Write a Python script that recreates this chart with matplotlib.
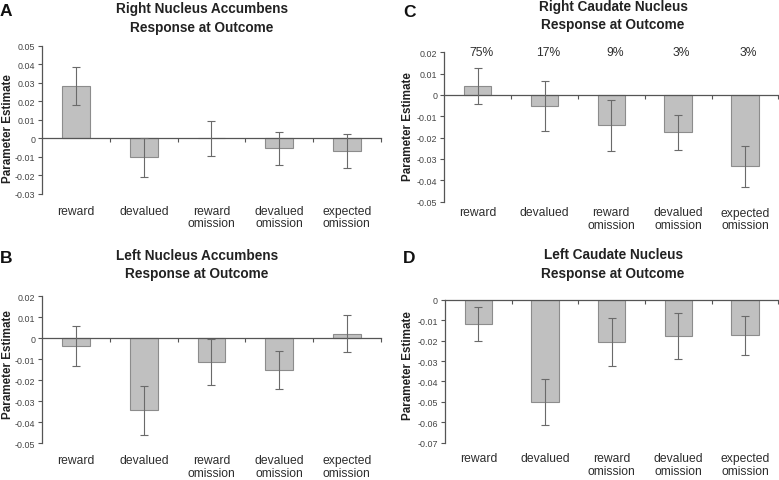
import matplotlib
matplotlib.use("Agg")
import matplotlib.pyplot as plt
from matplotlib.ticker import FuncFormatter, FixedLocator
import numpy as np

plt.rcParams['font.family'] = ['Liberation Sans', 'DejaVu Sans']
plt.rcParams['axes.unicode_minus'] = False

categories = ["reward", "devalued", "reward\nomission", "devalued\nomission", "expected\nomission"]

# Panel A: Right Nucleus Accumbens
a_values = [0.0282, -0.0103, 0.0, -0.0055, -0.0069]
a_errors = [0.0104, 0.0106, 0.0094, 0.0089, 0.0094]
# Panel B: Left Nucleus Accumbens
b_values = [-0.0037, -0.0343, -0.0112, -0.0150, 0.0021]
b_errors = [0.0097, 0.0118, 0.0109, 0.0090, 0.0088]
# Panel C: Right Caudate Nucleus
c_values = [0.0042, -0.0053, -0.0142, -0.0176, -0.0335]
c_errors = [0.0085, 0.0118, 0.0120, 0.0081, 0.0096]
c_percent = ["75%", "17%", "9%", "3%", "3%"]
# Panel D: Left Caudate Nucleus
d_values = [-0.0118, -0.0502, -0.0207, -0.0176, -0.0174]
d_errors = [0.0084, 0.0113, 0.0117, 0.0113, 0.0095]

a_ylim = (-0.03, 0.05)
b_ylim = (-0.05, 0.02)
c_ylim = (-0.05, 0.02)
d_ylim = (-0.07, 0.0)

W, H = 779, 481
fig = plt.figure(figsize=(W / 100, H / 100), dpi=100)

def fig_rect(left, top, right, bottom):
    return [left / W, 1 - bottom / H, (right - left) / W, (bottom - top) / H]

axis_col = '#555555'
bar_col = '#c0c0c0'
edge_col = '#8c8c8c'
err_col = '#6a6a6a'
text_col = '#2e2e2e'

def fmt(v, pos):
    if abs(v) < 1e-9:
        return "0"
    return f"{v:.2f}"

def make_panel(rect, values, errors, ylim, label_gap, ylab_xy):
    ax = fig.add_axes(rect)
    x = np.arange(len(categories))
    ax.bar(x, values, width=0.41, color=bar_col, edgecolor=edge_col, linewidth=0.8, zorder=2)
    ax.errorbar(x, values, yerr=errors, fmt='none', ecolor=err_col, elinewidth=0.8,
                capsize=3.2, capthick=0.8, zorder=3)
    ax.set_xlim(-0.5, len(categories) - 0.5)
    ax.set_ylim(*ylim)
    ax.yaxis.set_major_locator(FixedLocator(np.round(np.arange(ylim[0], ylim[1] + 1e-9, 0.01), 3)))
    ax.yaxis.set_major_formatter(FuncFormatter(fmt))
    for s in ['top', 'right']:
        ax.spines[s].set_visible(False)
    ax.spines['bottom'].set_position(('data', 0))
    for s in ['left', 'bottom']:
        ax.spines[s].set_color(axis_col)
        ax.spines[s].set_linewidth(0.9)
    ax.set_xticks(np.arange(len(categories)) + 0.5)
    ax.set_xticklabels([])
    ax.tick_params(axis='x', direction='out', length=3, width=0.8, color=axis_col)
    ax.tick_params(axis='y', direction='out', length=3, width=0.8, color=axis_col,
                   labelsize=6.4, labelcolor='#444444', pad=2)
    for i, c in enumerate(categories):
        ax.annotate(c, xy=(i, 0), xycoords=('data', 'axes fraction'),
                    xytext=(0, -label_gap), textcoords='offset pixels',
                    ha='center', va='top', fontsize=8.7, color=text_col, linespacing=1.05)
    ax.set_ylabel("Parameter Estimate", fontsize=8.4, fontweight='bold', color='#222222', va='center')
    ax.yaxis.set_label_coords(*ylab_xy)
    return ax

axA = make_panel(fig_rect(42.3, 46.7, 380.7, 194.7), a_values, a_errors, a_ylim, 11, (-0.101, 0.447))
axB = make_panel(fig_rect(42.3, 297.3, 380.7, 444.3), b_values, b_errors, b_ylim, 11, (-0.101, 0.54))
axC = make_panel(fig_rect(444.3, 53.3, 778.3, 202.5), c_values, c_errors, c_ylim, 5, (-0.109, 0.51))
axD = make_panel(fig_rect(445.0, 301.0, 778.3, 443.5), d_values, d_errors, d_ylim, 10, (-0.11, 0.55))

for i, p in enumerate(c_percent):
    axC.text(i + 0.05, c_ylim[1], p, ha='center', va='center', fontsize=8.7, color=text_col)

title_kw = dict(ha='center', va='center', fontsize=9.8, fontweight='bold', color='#222222', linespacing=1.4)
fig.text(202 / W, 1 - 18.5 / H, "Right Nucleus Accumbens\nResponse at Outcome", **title_kw)
fig.text(197 / W, 1 - 265 / H, "Left Nucleus Accumbens\nResponse at Outcome", **title_kw)
fig.text(613 / W, 1 - 16.3 / H, "Right Caudate Nucleus\nResponse at Outcome", **title_kw)
fig.text(613 / W, 1 - 264.5 / H, "Left Caudate Nucleus\nResponse at Outcome", **title_kw)

letter_kw = dict(ha='left', va='center', fontsize=12.5, fontweight='bold', color='#111111')
fig.text(0 / W, 1 - 11 / H, "A", **letter_kw)
fig.text(0 / W, 1 - 259 / H, "B", **letter_kw)
fig.text(403 / W, 1 - 12.5 / H, "C", **letter_kw)
fig.text(403 / W, 1 - 259 / H, "D", **letter_kw)

fig.savefig("out.png", dpi=100, facecolor='white')
